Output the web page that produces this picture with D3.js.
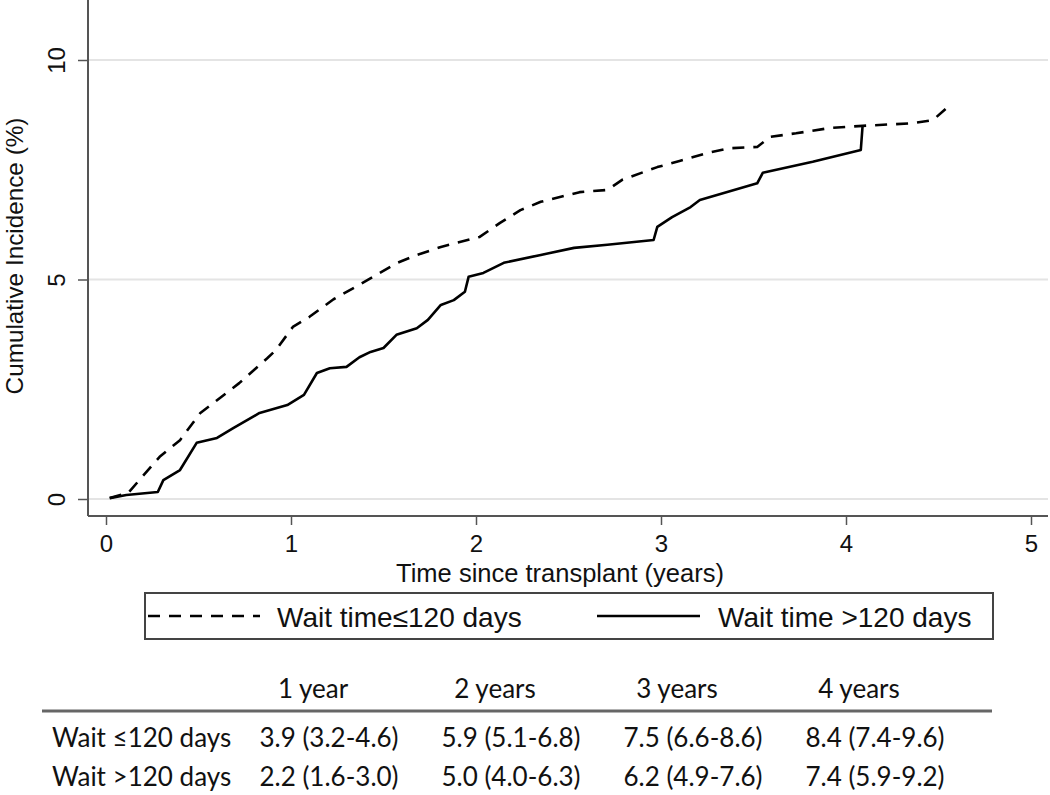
<!DOCTYPE html>
<html>
<head>
<meta charset="utf-8">
<script src="https://cdn.jsdelivr.net/npm/d3@7"></script>
<style>
  body { margin: 0; background: #fff; }
  svg { display: block; }
  .axis-text { font-family: "Liberation Sans", Arial, sans-serif; fill: #111; }
  .table-text { font-family: Lato, "Open Sans", sans-serif; fill: #111; }
</style>
</head>
<body>
<div id="chart"></div>
<script>
//-----------------------------DATA-----------------------------//
// Wait time <=120 days (dashed)
const shortTimes = [0.02, 0.12, 0.29, 0.40, 0.51, 0.60, 0.72, 0.80, 0.87, 0.92,
  1.01, 1.10, 1.23, 1.37, 1.48, 1.57, 1.68, 1.81, 2.02, 2.13, 2.24, 2.35, 2.56,
  2.71, 2.79, 2.98, 3.10, 3.25, 3.37, 3.52, 3.59, 3.73, 3.91, 4.09, 4.36, 4.47, 4.55];
const shortValues = [0.02, 0.14, 0.96, 1.34, 1.96, 2.25, 2.64, 2.94, 3.20, 3.40,
  3.92, 4.15, 4.55, 4.88, 5.15, 5.37, 5.56, 5.74, 5.97, 6.29, 6.58, 6.77, 6.99,
  7.04, 7.27, 7.56, 7.70, 7.88, 7.99, 8.02, 8.25, 8.33, 8.45, 8.50, 8.56, 8.63, 8.93];

// Wait time >120 days (solid)
const longTimes = [0.02, 0.11, 0.28, 0.31, 0.40, 0.49, 0.60, 0.69, 0.83, 0.98,
  1.07, 1.14, 1.21, 1.30, 1.37, 1.43, 1.50, 1.57, 1.68, 1.74, 1.81, 1.88, 1.94,
  1.96, 2.04, 2.15, 2.35, 2.53, 2.71, 2.96, 2.98, 3.06, 3.16, 3.21, 3.52, 3.55,
  3.82, 4.08, 4.09];
const longValues = [0.02, 0.09, 0.16, 0.43, 0.66, 1.28, 1.39, 1.62, 1.96, 2.14,
  2.37, 2.87, 2.98, 3.01, 3.23, 3.35, 3.44, 3.74, 3.89, 4.08, 4.42, 4.53, 4.72,
  5.06, 5.15, 5.38, 5.56, 5.72, 5.79, 5.90, 6.20, 6.42, 6.65, 6.81, 7.19, 7.43,
  7.68, 7.95, 8.52];

const xTicks = [0, 1, 2, 3, 4, 5];
const yTicks = [0, 5, 10];

const seriesNames = ["Wait time\u2264120 days", "Wait time >120 days"];

// summary table
const tableColumns = ["1 year", "2 years", "3 years", "4 years"];
const tableRows = ["Wait \u2264120 days", "Wait >120 days"];
const shortCells = ["3.9 (3.2-4.6)", "5.9 (5.1-6.8)", "7.5 (6.6-8.6)", "8.4 (7.4-9.6)"];
const longCells = ["2.2 (1.6-3.0)", "5.0 (4.0-6.3)", "6.2 (4.9-7.6)", "7.4 (5.9-9.2)"];

//------------------------1. PREPARATION------------------------//
const width = 1050;
const height = 795;
const plot = { left: 88, right: 1048, top: 0, bottom: 516 };

const svg = d3.select("#chart").append("svg")
  .attr("width", width)
  .attr("height", height);

const xScale = d3.scaleLinear().domain([0, 5]).range([106, 1031]);
const yScale = d3.scaleLinear().domain([0, 10]).range([499, 60]);

const slices = [
  { name: seriesNames[0], dash: "12,9", values: shortTimes.map((t, i) => ({ t: t, v: shortValues[i] })) },
  { name: seriesNames[1], dash: null, values: longTimes.map((t, i) => ({ t: t, v: longValues[i] })) }
];

const line = d3.line()
  .x(d => xScale(d.t))
  .y(d => yScale(d.v));

//-------------------------2. DRAWING---------------------------//
//---------------------------GRID-------------------------------//
svg.append("g")
  .selectAll("line")
  .data(yTicks)
  .enter()
  .append("line")
  .attr("x1", plot.left)
  .attr("x2", plot.right)
  .attr("y1", d => yScale(d))
  .attr("y2", d => yScale(d))
  .attr("stroke", "#e4e4e4")
  .attr("stroke-width", 2);

//-----------------------------AXES-----------------------------//
const xaxis = d3.axisBottom(xScale)
  .tickValues(xTicks)
  .tickSize(9)
  .tickPadding(10)
  .tickFormat(d3.format("d"));

const gx = svg.append("g")
  .attr("transform", "translate(0," + plot.bottom + ")")
  .call(xaxis);
gx.select(".domain").remove();
gx.append("line")
  .attr("x1", plot.left).attr("x2", plot.right)
  .attr("stroke", "#555").attr("stroke-width", 2);
gx.selectAll(".tick line").attr("stroke", "#555").attr("stroke-width", 1.5);
gx.selectAll(".tick text")
  .attr("class", "axis-text")
  .style("font-size", "24px")
  .attr("dy", "0.7em");

const yaxis = d3.axisLeft(yScale)
  .tickValues(yTicks)
  .tickSize(10)
  .tickFormat(d3.format("d"));

const gy = svg.append("g")
  .attr("transform", "translate(" + plot.left + ",0)")
  .call(yaxis);
gy.select(".domain").remove();
gy.append("line")
  .attr("y1", plot.top).attr("y2", plot.bottom)
  .attr("stroke", "#555").attr("stroke-width", 2);
gy.selectAll(".tick line").attr("stroke", "#555").attr("stroke-width", 1.5);
gy.selectAll(".tick text")
  .attr("class", "axis-text")
  .style("font-size", "24px")
  .attr("x", null)
  .attr("dy", null)
  .attr("text-anchor", "middle")
  .attr("transform", "translate(-23,0) rotate(-90)");

// axis titles
svg.append("text")
  .attr("class", "axis-text")
  .attr("x", 560)
  .attr("y", 582)
  .attr("text-anchor", "middle")
  .style("font-size", "25.5px")
  .text("Time since transplant (years)");

svg.append("text")
  .attr("class", "axis-text")
  .attr("transform", "translate(23,256) rotate(-90)")
  .attr("text-anchor", "middle")
  .style("font-size", "24.3px")
  .text("Cumulative Incidence (%)");

//----------------------------LINES-----------------------------//
svg.append("g")
  .selectAll("path")
  .data(slices)
  .enter()
  .append("path")
  .attr("d", d => line(d.values))
  .attr("fill", "none")
  .attr("stroke", "#000")
  .attr("stroke-width", 2.6)
  .attr("stroke-linejoin", "round")
  .attr("stroke-dasharray", d => d.dash);

//----------------------------LEGEND----------------------------//
const legend = svg.append("g");
legend.append("rect")
  .attr("x", 145).attr("y", 593)
  .attr("width", 848).attr("height", 46)
  .attr("fill", "#fff")
  .attr("stroke", "#444")
  .attr("stroke-width", 2);

const legendItems = [
  { name: slices[0].name, dash: slices[0].dash, x1: 148, x2: 260, tx: 277 },
  { name: slices[1].name, dash: slices[1].dash, x1: 597, x2: 700, tx: 718 }
];
legendItems.forEach(it => {
  legend.append("line")
    .attr("x1", it.x1).attr("x2", it.x2)
    .attr("y1", 616).attr("y2", 616)
    .attr("stroke", "#000")
    .attr("stroke-width", 2.4)
    .attr("stroke-dasharray", it.dash);
  legend.append("text")
    .attr("class", "axis-text")
    .attr("x", it.tx)
    .attr("y", 627)
    .style("font-size", "28px")
    .text(it.name);
});

//----------------------------TABLE-----------------------------//
const colScale = d3.scalePoint().domain(tableColumns).range([329, 875]);
const rowScale = d3.scalePoint().domain(tableRows).range([747, 786]);
const table = svg.append("g");

table.selectAll(".col-head")
  .data(tableColumns)
  .enter()
  .append("text")
  .attr("class", "table-text col-head")
  .attr("x", d => colScale(d) - 16)
  .attr("y", 698)
  .attr("text-anchor", "middle")
  .style("font-size", "26px")
  .text(d => d);

table.append("line")
  .attr("x1", 42).attr("x2", 992)
  .attr("y1", 711).attr("y2", 711)
  .attr("stroke", "#666")
  .attr("stroke-width", 3);

table.selectAll(".row-head")
  .data(tableRows)
  .enter()
  .append("text")
  .attr("class", "table-text row-head")
  .attr("x", 52)
  .attr("y", d => rowScale(d))
  .style("font-size", "26px")
  .text(d => d);

[shortCells, longCells].forEach((cells, r) => {
  table.selectAll(".cell-" + r)
    .data(cells)
    .enter()
    .append("text")
    .attr("class", "table-text cell-" + r)
    .attr("x", (d, i) => colScale(tableColumns[i]))
    .attr("y", rowScale(tableRows[r]))
    .attr("text-anchor", "middle")
    .style("font-size", "26px")
    .text(d => d);
});
</script>
</body>
</html>
